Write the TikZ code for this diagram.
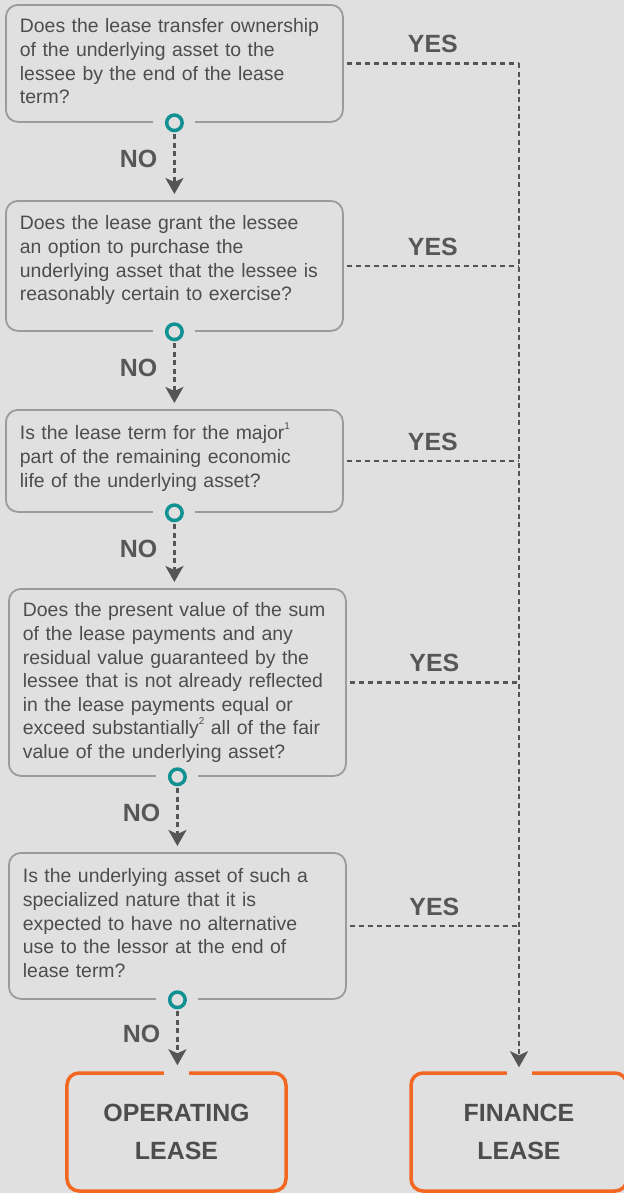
\documentclass[tikz,border=0pt]{standalone}
\usepackage{fontspec}
\setmainfont{Liberation Sans}
\usetikzlibrary{arrows.meta}

\definecolor{bgcol}{HTML}{E0E0E0}
\definecolor{boxline}{HTML}{9B9B9B}
\definecolor{bodytext}{HTML}{4D4D4D}
\definecolor{labeltext}{HTML}{575757}
\definecolor{dashcol}{HTML}{555555}
\definecolor{ringcol}{HTML}{119191}
\definecolor{leaseorange}{HTML}{F26722}

\newcommand{\leasenote}[1]{\raisebox{0.55em}{\fontsize{10}{10}\selectfont #1}}

\tikzset{
  question/.style 2 args={draw=boxline, line width=1.8bp, rounded corners=12bp,
    anchor=north west, text width=309bp, inner xsep=14bp, inner ysep=0pt,
    align=left, text=bodytext, font=\fontsize{19.5}{23.7}\selectfont,
    text height=#1, text depth=#2},
  outcome/.style={draw=leaseorange, line width=3.5bp, rounded corners=12bp,
    minimum height=118bp, align=center, text=bodytext,
    font=\fontsize{25}{38}\selectfont\bfseries},
  ring/.style={circle, draw=ringcol, fill=bgcol, line width=3.5bp,
    minimum size=15.5bp, inner sep=0pt},
  flow/.style={draw=dashcol, line width=2.5bp, dash pattern=on 5bp off 3.5bp,
    -{Stealth[length=16bp,width=18bp,inset=4bp]}},
  yesline/.style={draw=dashcol, line width=2.5bp, dash pattern=on 5.5bp off 3.5bp},
  answer/.style={text=labeltext, font=\fontsize{25}{30}\selectfont\bfseries, inner sep=0pt},
  gap/.style={fill=bgcol}
}

\begin{document}
\begin{tikzpicture}[x=1bp,y=-1bp]
  \useasboundingbox (0,0) rectangle (624,1193);
  \clip (0,0) rectangle (624,1193);
  \fill[bgcol] (0,0) rectangle (624,1193);

  \node[question={28bp}{89bp}] (q1) at (5,4)
    {Does the lease transfer ownership\\of the underlying asset to the\\lessee by the end of the lease\\term?};
  \node[question={29bp}{101bp}] (q2) at (5,200)
    {Does the lease grant the lessee\\an option to purchase the\\underlying asset that the lessee is\\reasonably certain to exercise?};
  \node[question={30bp}{72bp}] (q3) at (5,409)
    {Is the lease term for the major\leasenote{1}\\part of the remaining economic\\life of the underlying asset?};
  \node[question={28bp}{159bp}] (q4) at (8,588)
    {Does the present value of the sum\\of the lease payments and any\\residual value guaranteed by the\\lessee that is not already reflected\\in the lease payments equal or\\exceed substantially\leasenote{2} all of the fair\\value of the underlying asset?};
  \node[question={30bp}{116bp}] (q5) at (8,852)
    {Is the underlying asset of such a\\specialized nature that it is\\expected to have no alternative\\use to the lessor at the end of\\lease term?};

  \node[outcome, minimum width=219bp] (oplease) at (176.5,1132) {OPERATING\\LEASE};
  \node[outcome, minimum width=216bp] (finlease) at (519,1132) {FINANCE\\LEASE};

  \foreach \i in {1,...,5} {
    \fill[gap] ([xshift=-21bp,yshift=-3bp]q\i.south) rectangle ([xshift=21bp,yshift=3bp]q\i.south);
    \node[ring] (r\i) at (q\i.south) {};
  }
  \foreach \lease in {oplease,finlease}
    \fill[gap] ([xshift=-12.5bp,yshift=-4bp]\lease.north) rectangle ([xshift=12.5bp,yshift=4bp]\lease.north);

  % NO branches
  \foreach \i/\next in {1/q2,2/q3,3/q4,4/q5,5/oplease}
    \draw[flow] ([yshift=-2bp]r\i.south) -- ([yshift=6bp]r\i.south |- \next.north)
      node[answer, pos=0.42, left=16bp] {NO};

  % YES branches
  \foreach \i in {1,...,5}
    \draw[yesline] ([xshift=3bp]q\i.east) -- (q\i.east -| finlease.north)
      node[answer, midway, above=9bp] {YES};
  \draw[flow] (q1.east -| finlease.north) -- ([yshift=4bp]finlease.north);
\end{tikzpicture}
\end{document}
